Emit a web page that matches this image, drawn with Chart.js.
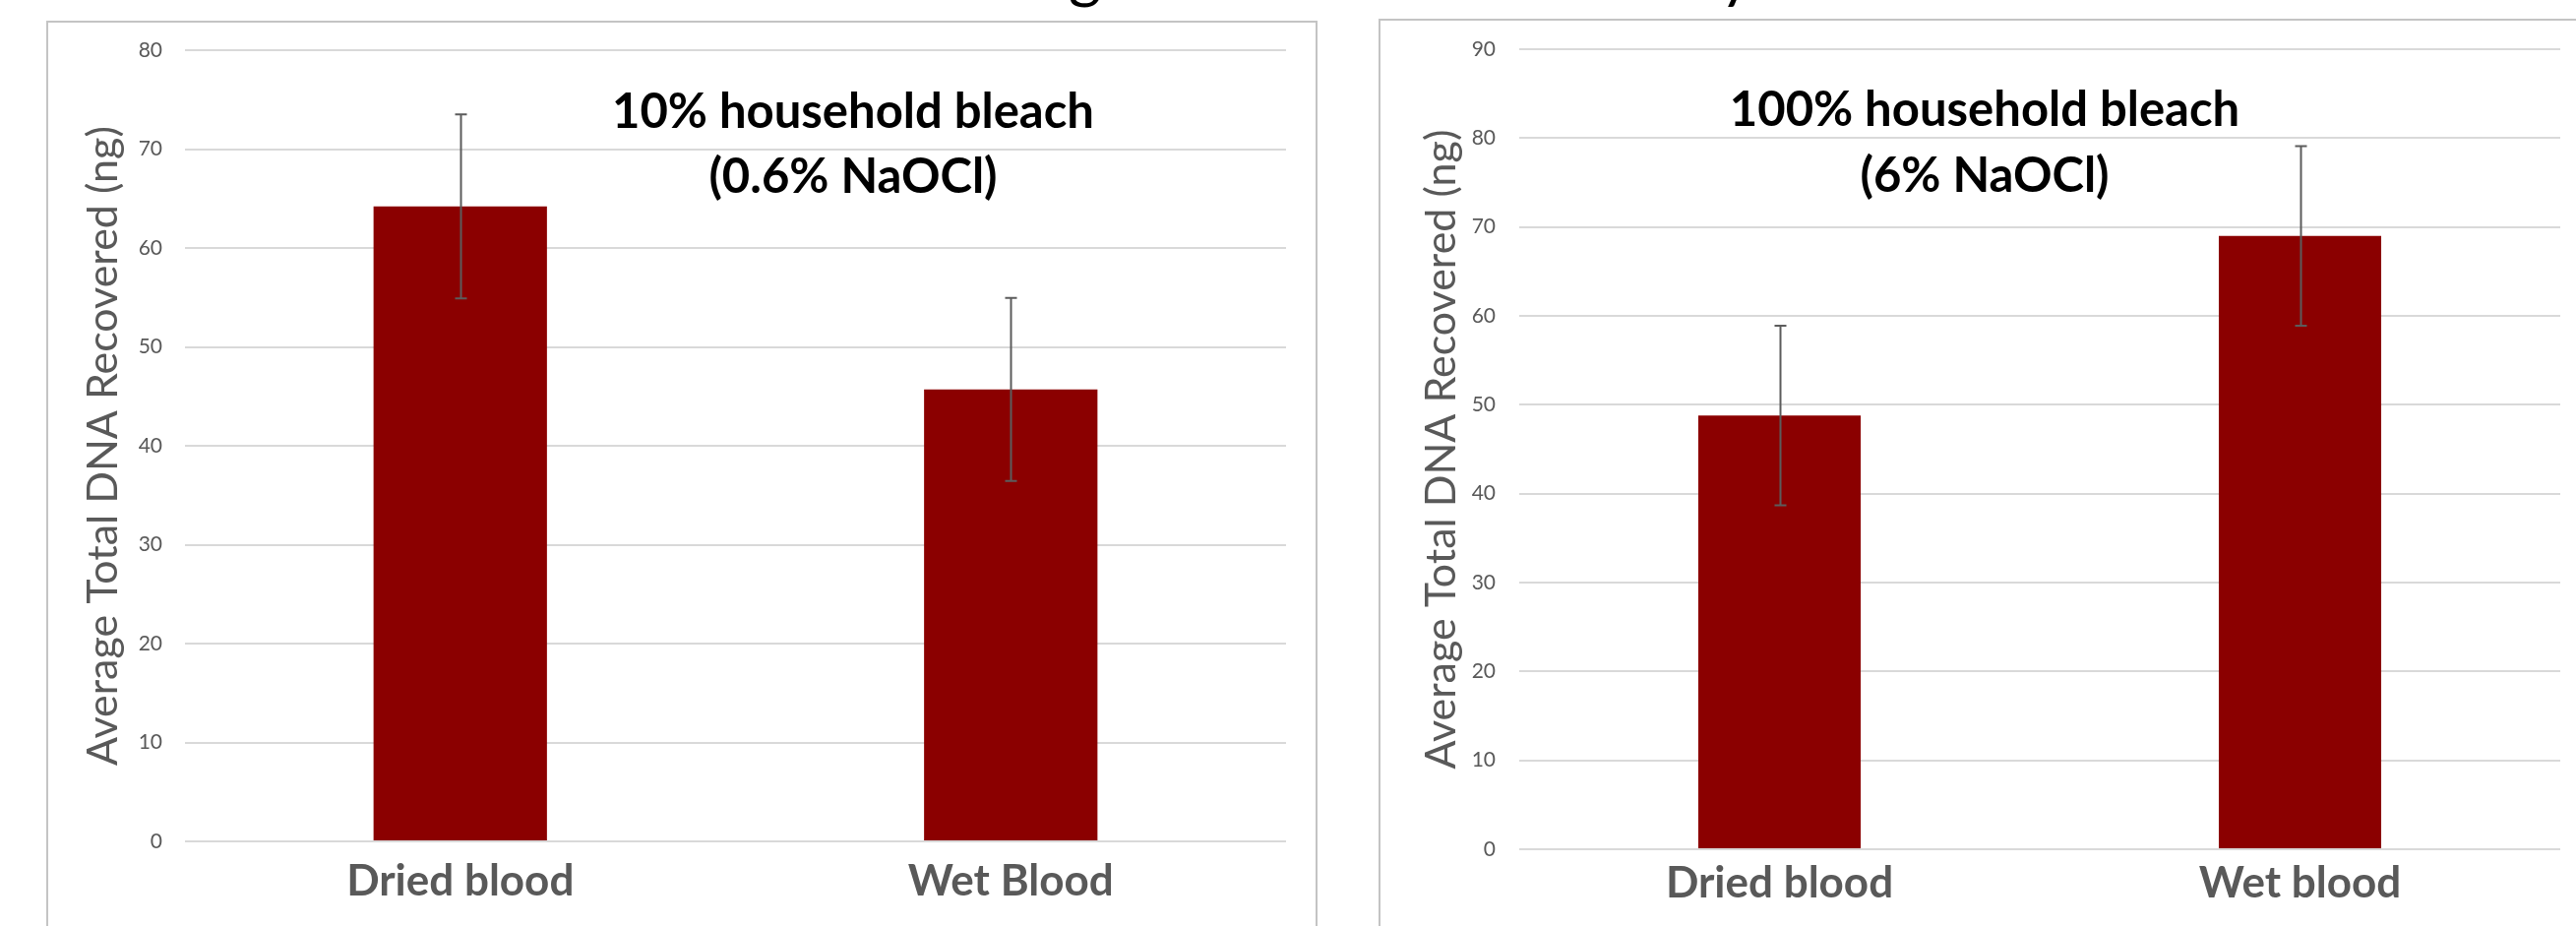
<!DOCTYPE html>
<html>
<head>
<meta charset="utf-8">
<script src="https://cdn.jsdelivr.net/npm/chart.js@4.4.0/dist/chart.umd.min.js"></script>
<style>
  html, body { margin: 0; padding: 0; background: #ffffff; width: 2618px; height: 941px; overflow: hidden; position: relative; }
  .box { position: absolute; border: 2px solid #c4c4c4; box-sizing: border-box; background: #ffffff; }
  canvas { position: absolute; top: 0; }
  .note { position: absolute; font-family: Lato, sans-serif; font-weight: 700; color: #000; text-align: center; white-space: nowrap; }
  .cut { position: absolute; font-family: Lato, sans-serif; font-size: 64px; line-height: 64px; color: #000; }
</style>
</head>
<body>
<div class="cut" id="cutTitle"></div>
<div class="box" style="left:47px; top:21px; width:1292px; height:960px;"></div>
<div class="box" style="left:1401px; top:19px; width:1260px; height:960px;"></div>
<canvas id="left" width="1340" height="941" style="left:0px;"></canvas>
<canvas id="right" width="1278" height="941" style="left:1340px;"></canvas>
<div class="note" id="noteLeft" style="left:567px; top:78px; width:600px; font-size:49px; line-height:66px;"></div>
<div class="note" id="noteRight" style="left:1717px; top:76px; width:600px; font-size:49px; line-height:67px;"></div>
<script>
// ---- data ----
const leftCategories = ['Dried blood', 'Wet Blood'];
const leftValues = [64.2, 45.7];
const leftErrors = [9.3, 9.25];
const leftMax = 80;

const rightCategories = ['Dried blood', 'Wet blood'];
const rightValues = [48.8, 69.0];
const rightErrors = [10.1, 10.1];
const rightMax = 90;

const tickStep = 10;
const axisTitle = 'Average Total DNA Recovered (ng)';
const leftNote = ['10% household bleach', '(0.6% NaOCl)'];
const rightNote = ['100% household bleach', '(6% NaOCl)'];
const cutTitleGlyphs = [{ch: 'g', x: 1086}, {ch: 'y', x: 1748}];

// ---- notes / cut-off title ----
document.getElementById('noteLeft').innerHTML = leftNote.join('<br>');
document.getElementById('noteRight').innerHTML = rightNote.join('<br>');
const cut = document.getElementById('cutTitle');
cut.style.left = '0px'; cut.style.top = '-60px'; cut.style.width = '2618px'; cut.style.height = '80px';
cutTitleGlyphs.forEach(g => {
  const s = document.createElement('span');
  s.textContent = g.ch;
  s.style.position = 'absolute';
  s.style.left = g.x + 'px';
  s.style.top = '0px';
  cut.appendChild(s);
});

const BAR = '#8B0000';
const GRID = '#d9d9d9';
const TXT = '#595959';

const errorBars = {
  id: 'errorBars',
  afterDatasetsDraw(chart, args, opts) {
    const ctx = chart.ctx;
    const meta = chart.getDatasetMeta(0);
    const y = chart.scales.y;
    ctx.save();
    ctx.strokeStyle = '#5c5c5c';
    ctx.lineWidth = 2;
    meta.data.forEach((bar, i) => {
      const v = chart.data.datasets[0].data[i];
      const e = opts.errors[i];
      const yt = y.getPixelForValue(v + e);
      const yb = y.getPixelForValue(v - e);
      const x = Math.round(bar.x) + 0.5;
      ctx.beginPath();
      ctx.moveTo(x, yt); ctx.lineTo(x, yb);
      ctx.moveTo(x - 6, yt); ctx.lineTo(x + 6, yt);
      ctx.moveTo(x - 6, yb); ctx.lineTo(x + 6, yb);
      ctx.stroke();
    });
    ctx.restore();
  }
};

function makeChart(id, cats, vals, errs, max, cfg) {
  return new Chart(document.getElementById(id), {
    type: 'bar',
    data: {
      labels: cats,
      datasets: [{ data: vals, backgroundColor: BAR, borderWidth: 0,
        barPercentage: cfg.barPct, categoryPercentage: 1.0 }]
    },
    plugins: [errorBars],
    options: {
      responsive: false,
      animation: false,
      devicePixelRatio: 1,
      layout: { padding: { left: 0, right: cfg.padRight, top: cfg.padTop, bottom: 0 } },
      plugins: { legend: { display: false }, tooltip: { enabled: false }, errorBars: { errors: errs } },
      scales: {
        x: {
          grid: { display: false, drawTicks: false },
          border: { display: false },
          ticks: { color: TXT, padding: cfg.xPad, font: { family: 'Lato', size: 44, weight: 'bold' } },
          afterFit(s) { s.height = cfg.xHeight; }
        },
        y: {
          min: 0, max: max,
          ticks: { stepSize: tickStep, color: TXT, padding: cfg.yPad, font: { family: 'Lato', size: 21 } },
          grid: { color: GRID, lineWidth: 2, drawTicks: false },
          border: { display: false },
          title: { display: true, text: axisTitle, color: TXT, padding: { top: cfg.titlePad, bottom: 0 },
                   font: { family: 'Lato', size: 43, weight: 'normal' } },
          afterFit(s) { s.width = cfg.yWidth; }
        }
      }
    }
  });
}

function build() {
  makeChart('left', leftCategories, leftValues, leftErrors, leftMax,
    { barPct: 0.315, padRight: 33, padTop: 51, xHeight: 86, xPad: 14, yPad: 23, yWidth: 188, titlePad: 79 });
  makeChart('right', rightCategories, rightValues, rightErrors, rightMax,
    { barPct: 0.312, padRight: 16, padTop: 50, xHeight: 78, xPad: 8, yPad: 24, yWidth: 204, titlePad: 99 });
}

Promise.all([
  document.fonts.load('42px Lato'),
  document.fonts.load('bold 42px Lato')
]).then(build, build);
</script>
</body>
</html>
